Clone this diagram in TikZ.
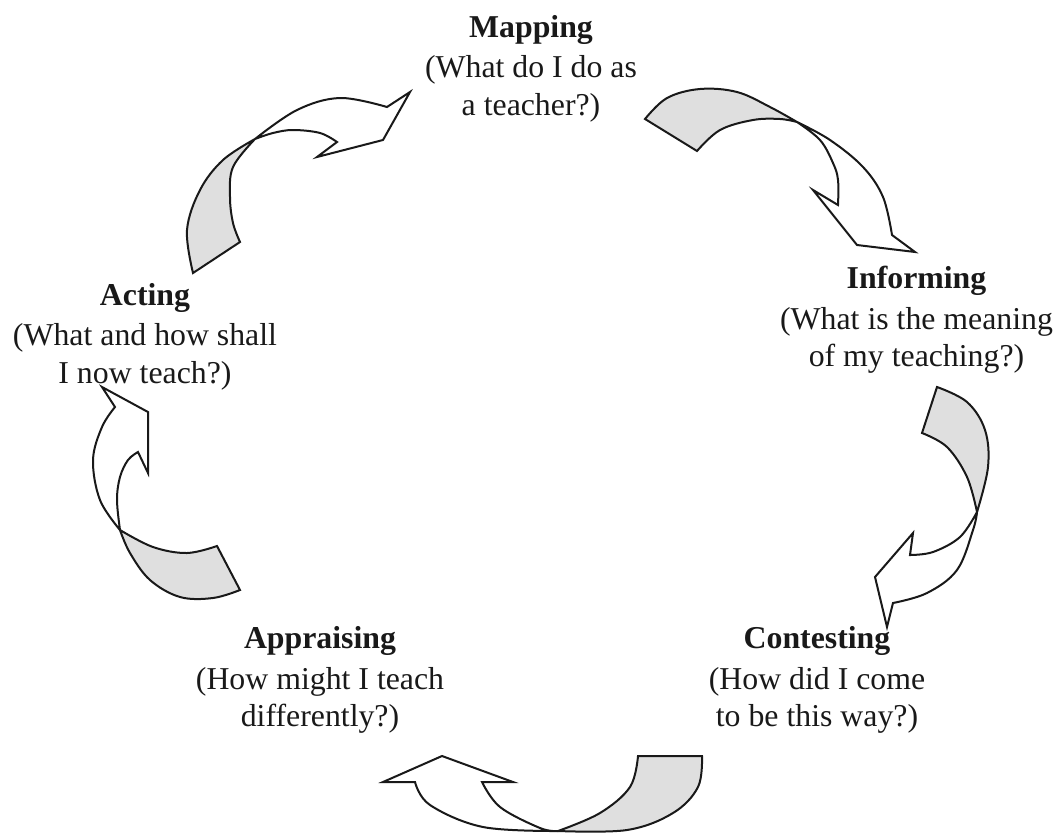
\documentclass[tikz,border=0pt]{standalone}
\usepackage{fontspec}
\setmainfont{Liberation Serif}
\begin{document}
\begin{tikzpicture}[x=1pt,y=-1pt,
  edge/.style={draw=black!90, line width=2pt, line join=miter, miter limit=6},
  tailpart/.style={edge, fill=gray!25},
  headpart/.style={edge, fill=white},
  curve/.style={smooth, tension=0.6},
  stage/.style={align=center, font=\fontsize{31.8}{37.5}\selectfont, inner sep=0pt, anchor=base, text=black!90}]
\useasboundingbox (0,0) rectangle (1056,833);

% stage labels (anchored at the baseline of the last line)
\node[stage] (mapping) at (531,115) {\textbf{Mapping}\\[3pt](What do I do as\\a teacher?)};
\node[stage] (informing) at (916.5,366.7) {\textbf{Informing}\\[3pt](What is the meaning\\of my teaching?)};
\node[stage] (contesting) at (817,726.7) {\textbf{Contesting}\\[3pt](How did I come\\to be this way?)};
\node[stage] (appraising) at (320,726.7) {\textbf{Appraising}\\[3pt](How might I teach\\differently?)};
\node[stage] (acting) at (145,383.3) {\textbf{Acting}\\[3pt](What and how shall\\I now teach?)};

% Acting -> Mapping
\filldraw[tailpart] plot[curve] coordinates {(255,139) (223,160) (200,190) (187,230) (193,273)}
  -- (240,242) -- plot[curve] coordinates {(240,242) (233,223) (230,197) (233,167) (255,139)} -- cycle;
\filldraw[headpart] plot[curve] coordinates {(255,139) (297,110) (340,98) (387,107)}
  -- (410,92) -- (383,140) -- (317,157) -- (337,142)
  -- plot[curve] coordinates {(337,142) (320,133) (293,130) (273,133) (255,139)} -- cycle;

% Mapping -> Informing
\filldraw[tailpart] plot[curve] coordinates {(797,122) (770,107) (737,92) (700,89) (667,98) (645,119)}
  -- (697,151) -- plot[curve] coordinates {(697,151) (720,130) (753,120) (780,119) (797,122)} -- cycle;
\filldraw[headpart] plot[curve] coordinates {(797,122) (830,140) (863,167) (883,197) (892,235)}
  -- (915,252) -- (857,245) -- (813,190) -- (838,205)
  -- plot[curve] coordinates {(838,205) (838,180) (833,163) (820,140) (797,122)} -- cycle;

% Informing -> Contesting
\filldraw[tailpart] plot[curve] coordinates {(977,512) (988,467) (985,430) (967,402) (937,387)}
  -- (922,433) -- plot[curve] coordinates {(922,433) (947,447) (967,477) (977,512)} -- cycle;
\filldraw[headpart] plot[curve] coordinates {(977,512) (960,537) (933,552) (910,555)}
  -- (913,533) -- (875,577) -- (887,627) -- (893,603)
  -- plot[curve] coordinates {(893,603) (927,593) (957,570) (973,530) (977,512)} -- cycle;

% Contesting -> Appraising
\filldraw[tailpart] plot[curve] coordinates {(558,831) (600,813) (630,787) (638,756)}
  -- (702,756) -- plot[curve] coordinates {(702,756) (698,787) (673,813) (627,830) (558,831)} -- cycle;
\filldraw[headpart] plot[curve] coordinates {(558,831) (540,828) (500,807) (482,782)}
  -- (513,782) -- (442,756) -- (383,782) -- (415,782)
  -- plot[curve] coordinates {(415,782) (430,805) (483,827) (558,831)} -- cycle;

% Appraising -> Acting
\filldraw[tailpart] plot[curve] coordinates {(120,530) (153,547) (187,553) (217,546)}
  -- (240,590) -- plot[curve] coordinates {(240,590) (213,598) (180,597) (150,580) (130,553) (120,530)} -- cycle;
\filldraw[headpart] plot[curve] coordinates {(120,530) (100,500) (93,460) (102,427) (115,407)}
  -- (102,387) -- (148,412) -- (148,473) -- (138,452)
  -- plot[curve] coordinates {(138,452) (128,460) (120,477) (117,500) (120,530)} -- cycle;
\end{tikzpicture}
\end{document}
